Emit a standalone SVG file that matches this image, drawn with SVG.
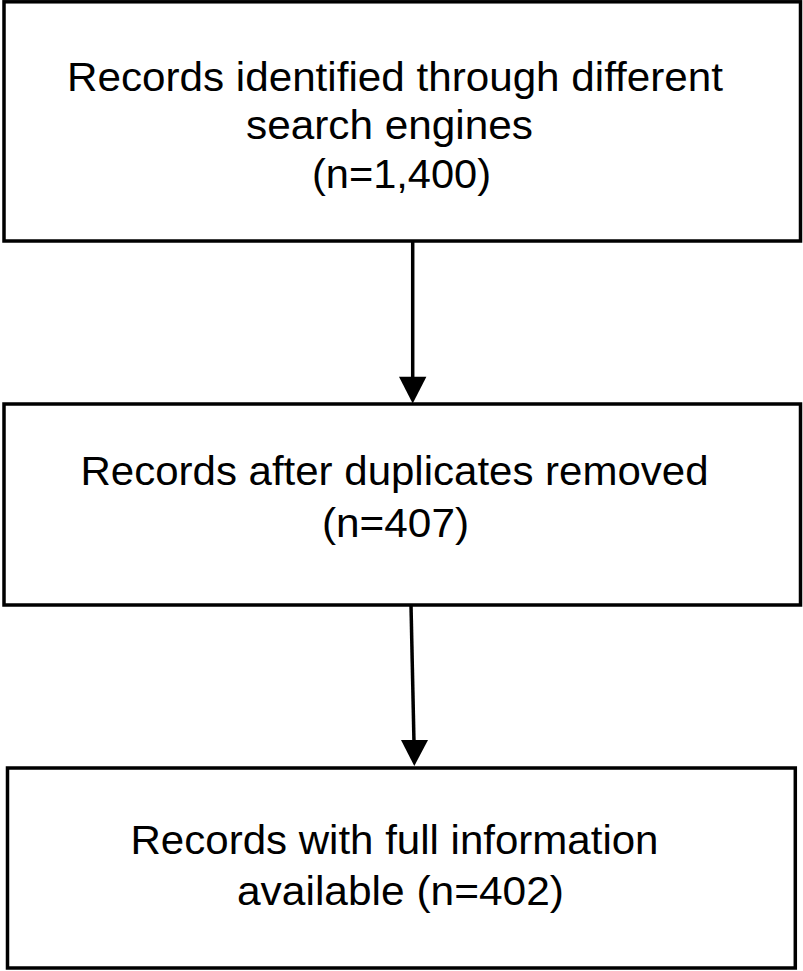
<svg xmlns="http://www.w3.org/2000/svg" width="803" height="971" viewBox="0 0 803 971">
  <style>
    .box { fill: #ffffff; stroke: #000000; stroke-width: 3.5; }
    .lbl { font-family: "Liberation Sans", Arial, sans-serif; font-size: 40px; fill: #000000; }
    .edge { stroke: #000000; stroke-width: 3.5; fill: none; }
    .head { fill: #000000; stroke: none; }
  </style>
  <rect width="803" height="971" fill="#ffffff"/>
  <g id="connectors">
    <line class="edge" x1="412.7" y1="241" x2="412.7" y2="380"/>
    <polygon class="head" points="399,376.7 426.4,376.7 412.7,403.5"/>
    <line class="edge" x1="411" y1="605" x2="414" y2="743"/>
    <polygon class="head" points="401,740 428,740 414.3,766"/>
  </g>
  <g id="node1">
    <rect class="box" x="4" y="1.8" width="796.5" height="239.2"/>
    <text class="lbl" x="67" y="90.5" textLength="656" lengthAdjust="spacingAndGlyphs">Records identified through different</text>
    <text class="lbl" x="246" y="139" textLength="287" lengthAdjust="spacingAndGlyphs">search engines</text>
    <text class="lbl" x="312" y="188" textLength="179" lengthAdjust="spacingAndGlyphs">(n=1,400)</text>
  </g>
  <g id="node2">
    <rect class="box" x="4" y="404" width="796.5" height="201"/>
    <text class="lbl" x="80.5" y="485" textLength="628" lengthAdjust="spacingAndGlyphs">Records after duplicates removed</text>
    <text class="lbl" x="322" y="536.5" textLength="147" lengthAdjust="spacingAndGlyphs">(n=407)</text>
  </g>
  <g id="node3">
    <rect class="box" x="7.5" y="768" width="787.8" height="200"/>
    <text class="lbl" x="130.5" y="853.5" textLength="528" lengthAdjust="spacingAndGlyphs">Records with full information</text>
    <text class="lbl" x="237" y="905" textLength="327" lengthAdjust="spacingAndGlyphs">available (n=402)</text>
  </g>
</svg>
